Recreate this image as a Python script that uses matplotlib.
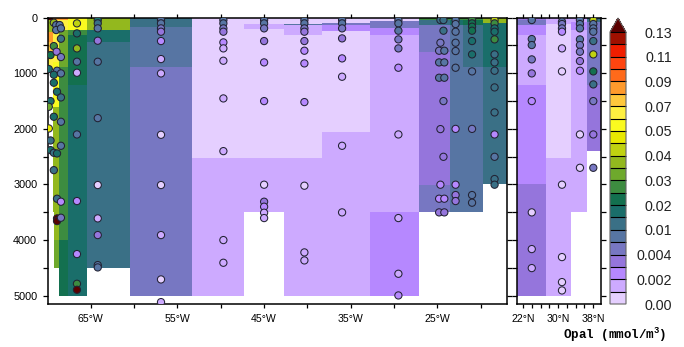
#!/usr/bin/env python3
"""
Opal section: two depth panels (longitude and latitude) with bottle samples on top
"""

import numpy as np
import matplotlib
matplotlib.use('Agg')
import matplotlib.pyplot as plt
from matplotlib.colors import ListedColormap, BoundaryNorm

plt.rcParams['font.family'] = ['Liberation Sans', 'DejaVu Sans']
plt.rcParams['mathtext.fontset'] = 'custom'
plt.rcParams['mathtext.bf'] = 'Liberation Mono:bold'
plt.rcParams['mathtext.rm'] = 'Liberation Mono:bold'

# colour scale
levels = [0, .001, .002, .003, .004, .007, .01, .015, .02, .025, .03, .035,
          .04, .045, .05, .06, .07, .08, .09, .10, .11, .12, .13]
level_colors = ['#e5cfff', '#cdaaff', '#b688ff', '#9575dc', '#7777c2', '#5775a3',
                '#3a7086', '#1a6e6a', '#13704f', '#3d8c40', '#6ea92c', '#93b81e',
                '#c0d210', '#e8e800', '#fafa20', '#fff040', '#ffc83c', '#ff9a2c',
                '#ff6a1a', '#ff4510', '#f01e00', '#a01000']
over_color = '#5a0000'
bar_labels = {0: '0.00', 2: '0.002', 4: '0.004', 6: '0.01', 8: '0.02', 10: '0.03',
              12: '0.04', 14: '0.05', 16: '0.07', 18: '0.09', 20: '0.11', 22: '0.13'}

# gridded field, longitude panel (degrees west, one entry per column)
lon_edges = [70, 69.4, 69.2, 68.7, 67.6, 65.4, 60.5, 53.3, 47.3, 42.65, 38.3, 32.8,
             27.1, 23.6, 22, 19.7, 17]
lon_depths = [
    [0, 40, 250, 430, 740, 940],
    [0, 40, 250, 800, 1600, 3500],
    [0, 40, 250, 800, 1600, 4000, 4500],
    [0, 40, 220, 300, 880, 4000, 5000],
    [0, 220, 310, 1210, 5000],
    [0, 230, 430, 4500],
    [0, 170, 880, 5000],
    [0, 2520, 5000],
    [0, 110, 200, 2520, 3500],
    [0, 110, 135, 310, 2520, 5000],
    [0, 90, 130, 240, 2050, 5000],
    [0, 60, 190, 310, 3500, 5000],
    [0, 50, 130, 610, 3010, 3500],
    [0, 50, 130, 3500],
    [0, 50, 130, 880, 3500],
    [0, 90, 880, 3000],
]
lon_values = [
    [.14, .0375, .085, .075, .065],
    [.095, .0375, .065, .055, .0375],
    [.085, .065, .065, .055, .0375, .0325],
    [.085, .065, .0325, .0325, .0275, .0225],
    [.055, .0275, .0225, .0175],
    [.0375, .0175, .0125],
    [.0125, .0085, .0055],
    [.0005, .0015],
    [.0005, .0015, .0005, .0015],
    [.0005, .0085, .0015, .0005, .0015],
    [.0005, .0055, .0025, .0005, .0015],
    [.0005, .0055, .0025, .0015, .0025],
    [.0275, .0125, .0055, .0035, .0055],
    [.0275, .0175, .0085],
    [.0275, .0225, .0125, .0085],
    [.0375, .0175, .0125],
]

# gridded field, latitude panel (degrees north)
lat_edges = [20.56, 27.25, 32.96, 36.6, 39.74]
lat_depths = [
    [0, 50, 130, 310, 1210, 3000, 5000],
    [0, 110, 2520, 5000],
    [0, 70, 220, 3500],
    [0, 70, 1210, 2400],
]
lat_values = [
    [.0035, .0055, .0025, .0015, .0025, .0035],
    [.0015, .0005, .0015],
    [.0015, .0025, .0015],
    [.0125, .0055, .0035],
]

# samples on the longitude section
lon_samples = [
    (69.27, 90, .0375), (69.0, 132, .0085), (68.6, 132, .0085), (69.0, 222, .0085),
    (68.45, 192, .0085), (68.45, 378, .0125), (69.27, 510, .0275), (69.65, 672, .0225),
    (68.95, 612, .0035), (68.45, 708, .0055), (69.85, 924, .0175), (68.9, 954, .0085),
    (69.27, 1026, .0175), (68.45, 1002, .0085), (69.27, 1170, .0175), (68.9, 1332, .0175),
    (68.45, 1434, .0125), (69.65, 1500, .0175), (69.85, 1602, .0325), (69.27, 1782, .0175),
    (68.45, 1872, .0085), (69.85, 1992, .0475), (69.65, 2208, .0125), (68.45, 2304, .0085),
    (69.65, 2382, .0175), (69.27, 2430, .0125), (68.9, 2442, .0175), (69.27, 2742, .0125),
    (68.9, 3256, .0125), (68.45, 3310, .0025), (68.9, 3610, .14), (68.9, 3658, .14),
    (68.45, 3598, .0055),
]
station_lons = [66.6, 64.2, 56.9, 49.7, 45, 40.35, 36, 29.5, 24.65, 24.3, 24.8, 24.2,
                22.9, 21, 18.4]
station_depths = [
    [102, 282, 552, 792, 990, 2100, 3298, 4252, 4786, 4894],
    [42, 102, 192, 414, 792, 1806, 3010, 3610, 3910, 4450, 4492],
    [42, 102, 192, 252, 420, 744, 1002, 2106, 3010, 3910, 4708, 5116],
    [42, 102, 192, 252, 444, 552, 774, 1452, 2400, 4000, 4408],
    [42, 102, 192, 420, 804, 1500, 3004, 3310, 3400, 3508, 3604],
    [42, 102, 192, 252, 420, 594, 822, 1518, 3022, 4222, 4366],
    [42, 102, 192, 372, 732, 1062, 2304, 3502],
    [42, 102, 234, 390, 552, 900, 2100, 3604, 4606, 4996],
    [42, 450, 2004, 3004],
    [42, 234, 1500, 2502],
    [594, 804, 1080, 3256, 3502],
    [594, 804, 1080, 3256, 3502],
    [42, 114, 252, 450, 600, 900, 2000, 3004, 3190, 3298],
    [42, 102, 162, 234, 420, 660, 966, 2000, 3190, 3328],
    [42, 102, 192, 252, 390, 660, 804, 954, 1254, 1704, 2100, 2502, 2902, 3004],
]
station_values = [
    [.0425, .0175, .0375, .0085, .0015, .0085, .0025, .0025, .0275, .14],
    [.0175, .0125, .0085, .0035, .0085, .0085, .0005, .0015, .0035, .0085, .0085],
    [.0085, .0085, .0055, .0035, .0025, .0015, .0015, .0005, .0005, .0015, .0005, .0015],
    [.0085, .0085, .0055, .0035, .0025, .0015, .0015, .0015, .0015, .0015, .0015],
    [.0085, .0085, .0055, .0035, .0025, .0025, .0005, .0035, .0025, .0015, .0015],
    [.0085, .0085, .0055, .0035, .0035, .0025, .0025, .0025, .0005, .0015, .0015],
    [.0085, .0085, .0055, .0035, .0025, .0015, .0015, .0015],
    [.0085, .0085, .0085, .0055, .0055, .0025, .0015, .0015, .0015, .0025],
    [.0125, .0055, .0035, .0025],
    [.0125, .0125, .0055, .0035],
    [.0055, .0085, .0085, .0025, .0035],
    [.0085, .0085, .0085, .0025, .0035],
    [.0085, .0085, .0085, .0085, .0085, .0085, .0025, .0025, .0035, .0035],
    [.0275, .0225, .0225, .0225, .0175, .0175, .0085, .0055, .0085, .0085],
    [.0425, .0275, .0175, .0175, .0275, .0125, .0125, .0125, .0125, .0125, .0025, .0085,
     .0125, .0125],
]

# samples on the latitude section
lat_stations = [24, 30.9, 35, 38.05]
lat_station_depths = [
    [42, 384, 492, 750, 1002, 1500, 3502, 4162, 4504],
    [72, 114, 192, 252, 552, 966, 3004, 4306, 4756, 4906],
    [42, 114, 192, 390, 492, 612, 780, 954, 2100, 2700],
    [42, 114, 192, 252, 420, 660, 966, 1200, 1500, 2100, 2700],
]
lat_station_values = [
    [.0085, .0085, .0085, .0055, .0035, .0025, .0005, .0015, .0015],
    [.0085, .0055, .0055, .0025, .0015, .0005, .0005, .0005, .0005, .0005],
    [.0085, .0085, .0085, .0085, .0055, .0055, .0035, .0025, .0005, .0005],
    [.0425, .0085, .0085, .0085, .0125, .0425, .0225, .0125, .0055, .0035, .0055],
]

WIDTH, HEIGHT = 684, 347
TOP, BOTTOM = 17.7, 304
MAX_DEPTH = 5150


def px_axes(fig, x0, x1, y0, y1):
    """Axes from pixel edges (y measured from the top of the image)"""
    return fig.add_axes([x0 / WIDTH, 1 - y1 / HEIGHT, (x1 - x0) / WIDTH, (y1 - y0) / HEIGHT])


def draw_columns(ax, edges, depths, values, sign, cmap, norm):
    """Each column has its own depth layers, so mesh them one at a time"""
    for i in range(len(depths)):
        z = np.array(values[i])[:, None]
        ax.pcolormesh([sign * edges[i], sign * edges[i + 1]], depths[i], z,
                      cmap=cmap, norm=norm, rasterized=False)


def draw_points(ax, x, y, v, cmap, norm):
    ax.scatter(x, y, c=v, s=27, cmap=cmap, norm=norm, edgecolors='#222233',
               linewidths=0.75, zorder=3)


def style_depth_axis(ax):
    ax.set_ylim(MAX_DEPTH, 0)
    ax.set_yticks(np.arange(0, 5001, 500))
    for spine in ax.spines.values():
        spine.set_linewidth(1.1)


cmap = ListedColormap(level_colors)
cmap.set_over(over_color)
norm = BoundaryNorm(levels, len(level_colors))

fig = plt.figure(figsize=(WIDTH / 100, HEIGHT / 100), dpi=100)

# longitude panel
ax1 = px_axes(fig, 47.5, 506.7, TOP, BOTTOM)
draw_columns(ax1, lon_edges, lon_depths, lon_values, -1, cmap, norm)
s_lon = [-s[0] for s in lon_samples]
s_dep = [s[1] for s in lon_samples]
s_val = [s[2] for s in lon_samples]
draw_points(ax1, s_lon, s_dep, s_val, cmap, norm)
for lon, dep, val in zip(station_lons, station_depths, station_values):
    draw_points(ax1, [-lon] * len(dep), dep, val, cmap, norm)
ax1.set_xlim(-70, -17)
style_depth_axis(ax1)
ax1.set_yticklabels([f'{d}' if d % 1000 == 0 else '' for d in range(0, 5001, 500)])
ax1.set_xticks(np.arange(-65, -19, 5))
ax1.set_xticklabels([f'{-t}°W' if t % 10 != 0 else '' for t in range(-65, -19, 5)])
ax1.tick_params(axis='x', top=True, bottom=True, length=3.2, width=0.9, labelsize=7.6, pad=4.2)
ax1.tick_params(axis='y', left=True, right=True, length=3.4, width=0.9, labelsize=7.8, pad=4)

# latitude panel
ax2 = px_axes(fig, 516.7, 600.7, TOP, BOTTOM)
draw_columns(ax2, lat_edges, lat_depths, lat_values, 1, cmap, norm)
for lat, dep, val in zip(lat_stations, lat_station_depths, lat_station_values):
    draw_points(ax2, [lat] * len(dep), dep, val, cmap, norm)
ax2.set_xlim(lat_edges[0], lat_edges[-1])
style_depth_axis(ax2)
ax2.set_yticklabels([])
ax2.set_xticks(np.arange(22, 39, 2))
ax2.set_xticklabels([f'{t}°N' if (t - 22) % 8 == 0 else '' for t in range(22, 39, 2)])
ax2.tick_params(axis='x', top=True, bottom=True, length=3.2, width=0.9, labelsize=7.6, pad=4.2)
ax2.tick_params(axis='y', left=True, right=True, length=3.4, width=0.9)

# colour bar, triangle on top
cax = px_axes(fig, 610, 626, 18, BOTTOM)
sm = plt.cm.ScalarMappable(norm=norm, cmap=cmap)
cb = fig.colorbar(sm, cax=cax, extend='max', extendfrac=14 / 272, drawedges=True,
                  spacing='uniform')
cb.dividers.set_color('black')
cb.dividers.set_linewidth(0.8)
cb.outline.set_edgecolor('#666666')
cb.outline.set_linewidth(0.8)
cb.minorticks_off()
cb.set_ticks([levels[i] for i in bar_labels])
cb.set_ticklabels(list(bar_labels.values()))
cax.tick_params(length=0, labelsize=10.3, pad=33, colors='#222222')
for label in cax.get_yticklabels():
    label.set_ha('right')

fig.text(614.5 / WIDTH, 1 - 335 / HEIGHT, r'Opal (mmol/m$^{\mathbf{3}}$)', ha='center', va='center',
         family='Liberation Mono', fontweight='bold', fontsize=9)

fig.savefig('out.png', dpi=100)
